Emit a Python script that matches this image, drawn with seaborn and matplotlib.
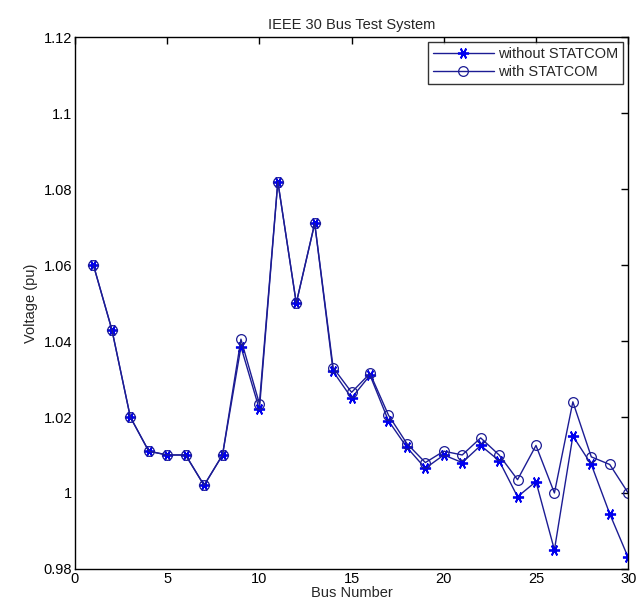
import matplotlib
matplotlib.use("Agg")
import matplotlib.pyplot as plt
import seaborn as sns
import pandas as pd

# Bus voltage profile of the IEEE 30 bus system
bus = list(range(1, 31))
v_without = [1.060, 1.043, 1.020, 1.011, 1.010, 1.010, 1.002, 1.010, 1.0385, 1.022,
             1.082, 1.050, 1.071, 1.032, 1.025, 1.031, 1.019, 1.012, 1.0065, 1.010,
             1.008, 1.0125, 1.0085, 0.999, 1.003, 0.985, 1.015, 1.0075, 0.9945, 0.983]
v_with = [1.060, 1.043, 1.020, 1.011, 1.010, 1.010, 1.002, 1.010, 1.0405, 1.0235,
          1.082, 1.050, 1.071, 1.033, 1.0265, 1.0315, 1.0205, 1.013, 1.008, 1.011,
          1.010, 1.0145, 1.010, 1.0035, 1.0125, 1.000, 1.024, 1.0095, 1.0075, 1.000]
labels = ["without STATCOM", "with STATCOM"]
x_ticks = [0, 5, 10, 15, 20, 25, 30]
y_ticks = [0.98, 1.00, 1.02, 1.04, 1.06, 1.08, 1.10, 1.12]
y_ticklabels = ["0.98", "1", "1.02", "1.04", "1.06", "1.08", "1.1", "1.12"]

df = pd.DataFrame({"bus": bus, "without": v_without, "with": v_with})

sns.set_style("white")
plt.rcParams["font.family"] = ["Liberation Sans", "DejaVu Sans"]

fig = plt.figure(figsize=(6.41, 6.02), dpi=100)
ax = fig.add_axes([0.117, 0.055, 0.863, 0.883])

line_color = "#1c1c94"
asterisk = (6, 2, 90)
sns.lineplot(data=df, x="bus", y="without", ax=ax, color=line_color, lw=1.0,
             marker=asterisk, markersize=8, markerfacecolor="#0000ee",
             markeredgecolor="#0000ee", markeredgewidth=1.3, label=labels[0])
sns.lineplot(data=df, x="bus", y="with", ax=ax, color=line_color, lw=1.0,
             marker="o", markersize=7, markerfacecolor="none",
             markeredgecolor=line_color, markeredgewidth=0.9, label=labels[1])

ax.set_xlim(0, 30)
ax.set_ylim(0.98, 1.12)
ax.set_xticks(x_ticks)
ax.set_xticklabels([str(t) for t in x_ticks])
ax.set_yticks(y_ticks)
ax.set_yticklabels(y_ticklabels)
ax.tick_params(direction="in", length=5, width=1, top=True, right=True,
               labelsize=10.5, colors="black", pad=2)

for s in ax.spines.values():
    s.set_visible(True)
    s.set_color("black")
    s.set_linewidth(1.0)

ax.set_xlabel("Bus Number", fontsize=10.5, labelpad=0)
ax.set_ylabel("Voltage (pu)", fontsize=10.5, labelpad=4)
ax.set_title("IEEE 30 Bus Test System", fontsize=10.5, pad=6)

leg = ax.legend(loc="upper right", fontsize=10.5, frameon=True, fancybox=False,
                borderpad=0.3, handlelength=4.2, handletextpad=0.3,
                labelspacing=0.3, borderaxespad=0.35)
leg.get_frame().set_edgecolor("black")
leg.get_frame().set_linewidth(1.0)

fig.savefig("out.png", dpi=100, facecolor="white")
